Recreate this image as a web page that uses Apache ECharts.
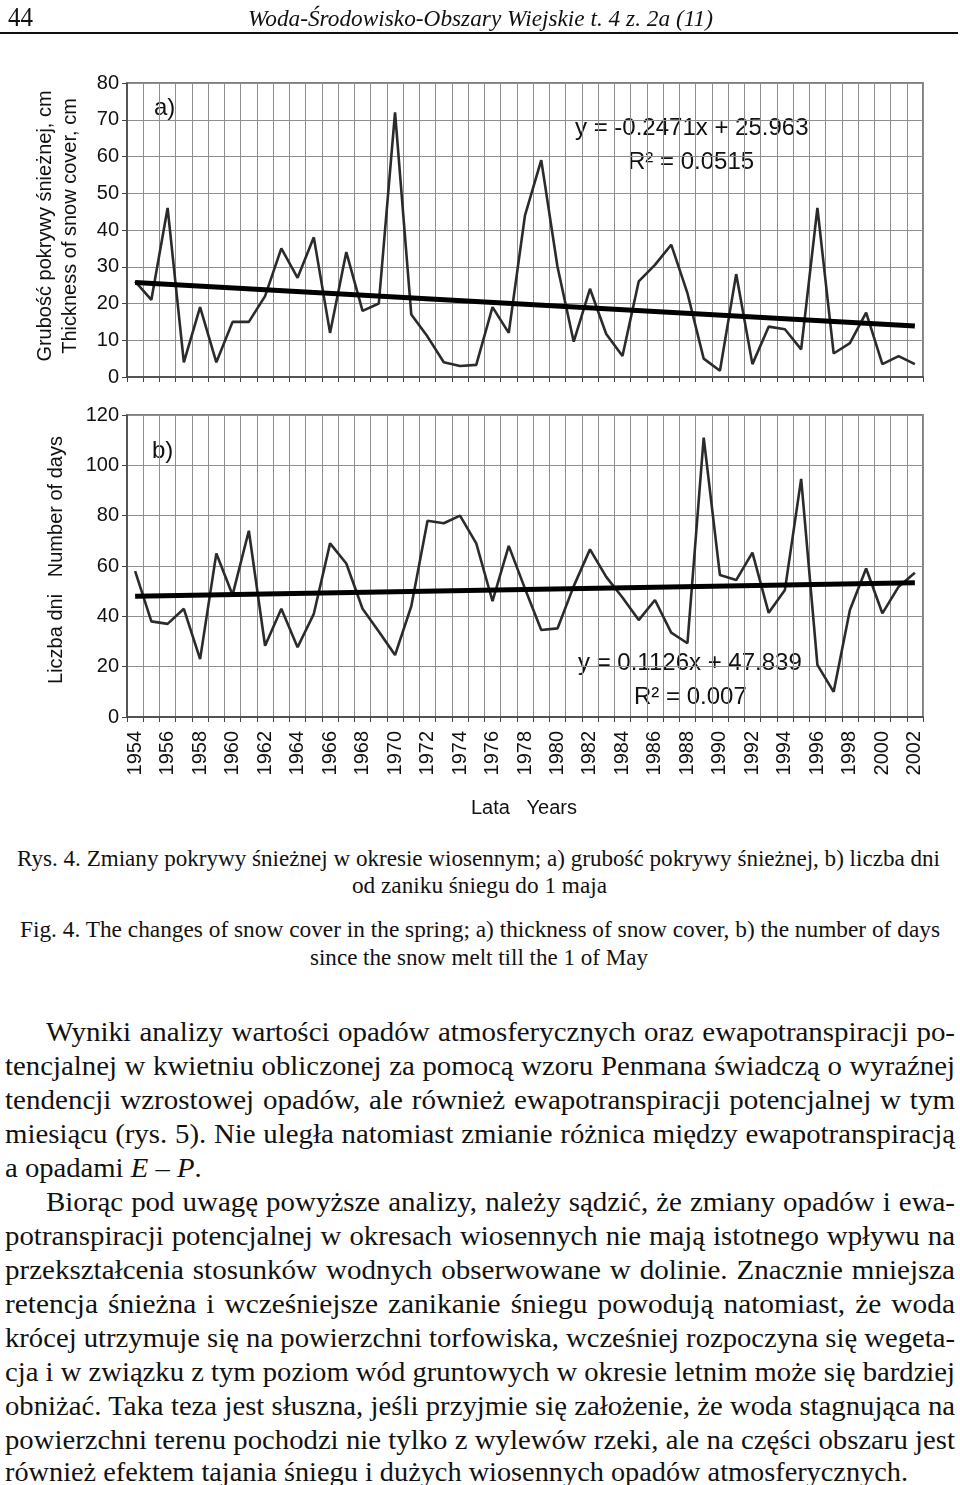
<!DOCTYPE html>
<html>
<head>
<meta charset="utf-8">
<script src="https://cdn.jsdelivr.net/npm/echarts/dist/echarts.min.js"></script>
<style>
  html, body { margin:0; padding:0; background:#fff; }
  body { width:960px; height:1485px; position:relative; overflow:hidden; }
  #chart { position:absolute; left:0; top:0; width:960px; height:840px; }
  .ln { position:absolute; white-space:nowrap; font-family:'Liberation Serif','Times New Roman',serif; color:#111; transform-origin:0 50%; }
  .body { font-size:27px; line-height:34px; height:34px; }
  .cap { font-size:24px; line-height:28px; height:28px; }
  .rule { position:absolute; left:0; top:32px; width:958px; height:2px; background:#111; }
</style>
</head>
<body>
<div id="chart"></div>
<div class="rule"></div>
<div id="txt"></div>
<script>
// ---------------- data ----------------
const years = ['1954','1955','1956','1957','1958','1959','1960','1961','1962','1963',
  '1964','1965','1966','1967','1968','1969','1970','1971','1972','1973',
  '1974','1975','1976','1977','1978','1979','1980','1981','1982','1983',
  '1984','1985','1986','1987','1988','1989','1990','1991','1992','1993',
  '1994','1995','1996','1997','1998','1999','2000','2001','2002'];
// a) snow cover thickness, cm
const snowThickness = [26,21,46,4,19,4,15,15,22,35,
  27,38,12,34,18,20,72,17,11,4,
  3,3.3,19,12,44,59,30,9.6,24,11.7,
  5.7,26,30.5,36,22.8,5,1.7,28,3.5,13.7,
  13,7.5,46,6.4,9.2,17.5,3.5,5.7,3.5];
// b) number of days since snow melt till 1 May
const daysSinceMelt = [58,38,37,43,23,65,48.5,74,28.3,43,
  27.7,41,69,61,43,34,24.6,44,78,77,
  80,69,46,68,51,34.6,35.2,52,66.6,55.7,
  47.5,38.5,46.5,33.5,29.3,111,56.4,54.4,65.3,41.4,
  50.5,94.6,20.7,10,42.5,59,41.2,51.8,57.3];
// trend line end values (first year, last year)
const trendA = [25.72, 13.85];
const trendB = [47.95, 53.36];
const eqA = ['y = -0.2471x + 25.963', 'R\u00b2 = 0.0515'];
const eqB = ['y = 0.1126x + 47.839', 'R\u00b2 = 0.007'];
const yTicksA = { min:0, max:80, interval:10 };
const yTicksB = { min:0, max:120, interval:20 };

// ---------------- chart ----------------
const SANS = "'Liberation Sans', Arial, sans-serif";
const gridCol = '#8e8e8e';
const axisCol = '#444';
function xAxis(gi, showLabels) {
  return {
    type:'category', gridIndex:gi, data:years, boundaryGap:true,
    axisLine:{ show:true, lineStyle:{ color:axisCol, width:1.5 } },
    axisTick:{ show:true, interval:0, length:5, lineStyle:{ color:axisCol } },
    axisLabel: showLabels ? { show:true, interval:1, rotate:90, fontSize:20, fontFamily:SANS, color:'#111', margin:14 } : { show:false },
    splitLine:{ show:true, interval:0, lineStyle:{ color:gridCol, width:1 } }
  };
}
function yAxis(gi, t) {
  return {
    type:'value', gridIndex:gi, min:t.min, max:t.max, interval:t.interval,
    axisLine:{ show:true, lineStyle:{ color:axisCol, width:1.5 } },
    axisTick:{ show:true, length:5, lineStyle:{ color:axisCol } },
    axisLabel:{ fontSize:20, fontFamily:SANS, color:'#111', margin:8 },
    splitLine:{ show:true, lineStyle:{ color:gridCol, width:1 } }
  };
}
function trendMark(t) {
  return {
    silent:true, symbol:['none','none'], animation:false,
    label:{ show:false },
    lineStyle:{ color:'#000', width:5, type:'solid' },
    data:[[ { coord:[years[0], t[0]] }, { coord:[years[years.length-1], t[1]] } ]]
  };
}
function txt(x, y, text, size, extra) {
  return Object.assign({
    type:'text', x:x, y:y, silent:true,
    style:Object.assign({ text:text, fontSize:size, fontFamily:SANS, fill:'#111', align:'left', verticalAlign:'middle' }, (extra && extra.style) || {})
  }, extra && extra.rotation ? { rotation:extra.rotation } : {});
}
const chart = echarts.init(document.getElementById('chart'), null, { renderer:'canvas' });
chart.setOption({
  animation:false,
  grid:[
    { left:127, top:83, width:796, height:294, show:true, borderColor:'#555', borderWidth:1.5 },
    { left:127, top:415, width:796, height:302, show:true, borderColor:'#555', borderWidth:1.5 }
  ],
  xAxis:[ xAxis(0,false), xAxis(1,true) ],
  yAxis:[ yAxis(0,yTicksA), yAxis(1,yTicksB) ],
  series:[
    { type:'line', xAxisIndex:0, yAxisIndex:0, data:snowThickness, symbol:'none',
      lineStyle:{ color:'#2b2b2b', width:2.6 }, markLine:trendMark(trendA), z:3 },
    { type:'line', xAxisIndex:1, yAxisIndex:1, data:daysSinceMelt, symbol:'none',
      lineStyle:{ color:'#2b2b2b', width:2.6 }, markLine:trendMark(trendB), z:3 }
  ],
  graphic:[
    txt(154, 108, 'a)', 24),
    txt(152, 451, 'b)', 24),
    txt(575, 128, eqA[0], 24),
    txt(628, 162, eqA[1], 24),
    txt(578, 663, eqB[0], 24),
    txt(634, 697, eqB[1], 24),
    txt(45, 226, 'Grubość pokrywy śnieżnej, cm', 20, { rotation:Math.PI/2, style:{ align:'center' } }),
    txt(70, 226, 'Thickness of snow cover, cm', 20, { rotation:Math.PI/2, style:{ align:'center' } }),
    txt(56, 560, 'Liczba dni   Number of days', 20, { rotation:Math.PI/2, style:{ align:'center' } }),
    txt(524, 808, 'Lata   Years', 20, { style:{ align:'center' } })
  ]
});

// ---------------- page text ----------------
// [html, class, left, right, centerY, mode, extra css]  mode: 'j' justify, 's' scale to width, 'n' natural
const lines = [
  ['44', 'cap', 8, 33, 17, 's', 'font-size:28px;'],
  ['Woda-Środowisko-Obszary Wiejskie t. 4 z. 2a (11)', 'cap', 248, 713, 18, 's', 'font-style:italic;'],
  ['Rys. 4. Zmiany pokrywy śnieżnej w okresie wiosennym; a) grubość pokrywy śnieżnej, b) liczba dni', 'cap', 17, 940, 858, 's'],
  ['od zaniku śniegu do 1 maja', 'cap', 352, 607, 885, 's'],
  ['Fig. 4. The changes of snow cover in the spring; a) thickness of snow cover, b) the number of days', 'cap', 20, 940, 929, 's'],
  ['since the snow melt till the 1 of May', 'cap', 310, 648, 957, 's'],
  ['Wyniki analizy wartości opadów atmosferycznych oraz ewapotranspiracji po-', 'body', 46, 955, 1032, 'j'],
  ['tencjalnej w kwietniu obliczonej za pomocą wzoru Penmana świadczą o wyraźnej', 'body', 5, 955, 1066, 'j'],
  ['tendencji wzrostowej opadów, ale również ewapotranspiracji potencjalnej w tym', 'body', 5, 955, 1100, 'j'],
  ['miesiącu (rys. 5). Nie uległa natomiast zmianie różnica między ewapotranspiracją', 'body', 5, 955, 1134, 'j'],
  ['a opadami <i>E</i> – <i>P</i>.', 'body', 5, 0, 1168, 'n'],
  ['Biorąc pod uwagę powyższe analizy, należy sądzić, że zmiany opadów i ewa-', 'body', 46, 955, 1202, 'j'],
  ['potranspiracji potencjalnej w okresach wiosennych nie mają istotnego wpływu na', 'body', 5, 955, 1236, 'j'],
  ['przekształcenia stosunków wodnych obserwowane w dolinie. Znacznie mniejsza', 'body', 5, 955, 1270, 'j'],
  ['retencja śnieżna i wcześniejsze zanikanie śniegu powodują natomiast, że woda', 'body', 5, 955, 1304, 'j'],
  ['krócej utrzymuje się na powierzchni torfowiska, wcześniej rozpoczyna się wegeta-', 'body', 5, 955, 1338, 'j'],
  ['cja i w związku z tym poziom wód gruntowych w okresie letnim może się bardziej', 'body', 5, 955, 1372, 'j'],
  ['obniżać. Taka teza jest słuszna, jeśli przyjmie się założenie, że woda stagnująca na', 'body', 5, 955, 1406, 'j'],
  ['powierzchni terenu pochodzi nie tylko z wylewów rzeki, ale na części obszaru jest', 'body', 5, 955, 1440, 'j'],
  ['również efektem tajania śniegu i dużych wiosennych opadów atmosferycznych.', 'body', 5, 908, 1472, 's']
];
const host = document.getElementById('txt');
const els = lines.map(l => {
  const d = document.createElement('div');
  d.className = 'ln ' + l[1];
  d.innerHTML = l[0];
  if (l[6]) d.style.cssText += l[6];
  d.style.left = l[2] + 'px';
  const h = l[1] === 'body' ? 34 : 28;
  d.style.top = (l[4] - h/2) + 'px';
  host.appendChild(d);
  return d;
});
// common body scale factor: the tightest justified line sets it
let bodyScale = 10;
lines.forEach((l, i) => {
  if (l[5] === 'j') {
    const w = els[i].getBoundingClientRect().width;
    bodyScale = Math.min(bodyScale, (l[3] - l[2]) / w);
  }
});
lines.forEach((l, i) => {
  const el = els[i];
  const w = el.getBoundingClientRect().width;
  if (l[5] === 's') {
    el.style.transform = 'scaleX(' + ((l[3] - l[2]) / w) + ')';
  } else if (l[5] === 'j') {
    const fit = (l[3] - l[2]) / w;
    const s = bodyScale + 0.5 * (fit - bodyScale);
    const spaces = (el.textContent.match(/ /g) || []).length;
    const target = (l[3] - l[2]) / s;
    if (spaces && w < target) el.style.wordSpacing = ((target - w) / spaces) + 'px';
    el.style.transform = 'scaleX(' + s + ')';
  } else {
    el.style.transform = 'scaleX(' + bodyScale + ')';
  }
});
</script>
</body>
</html>
